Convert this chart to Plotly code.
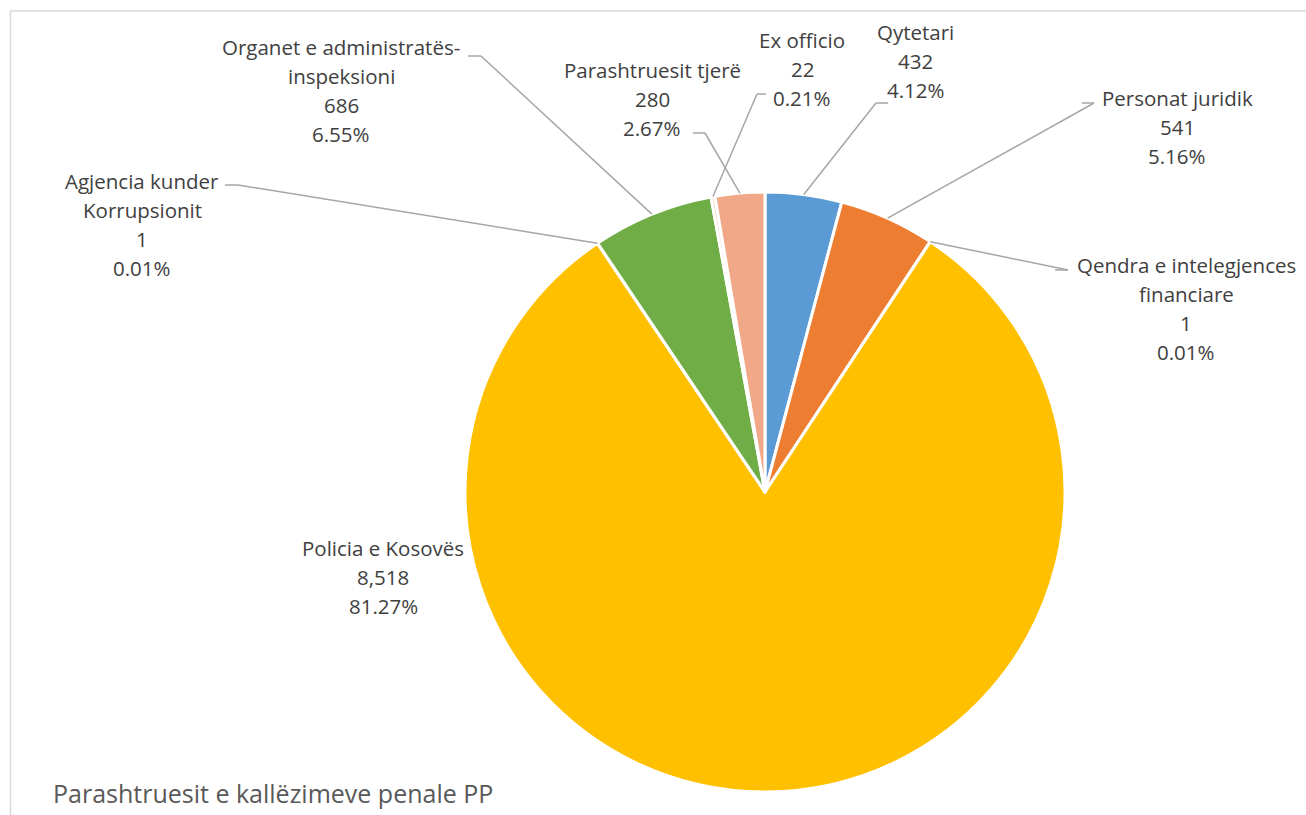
import math
import plotly.graph_objects as go

# ---- data ----
categories = ["Qytetari", "Personat juridik", "Qendra e intelegjences financiare",
              "Policia e Kosovës", "Agjencia kunder Korrupsionit",
              "Organet e administratës-inspeksioni", "Ex officio", "Parashtruesit tjerë"]
values = [432, 541, 1, 8518, 1, 686, 22, 280]
colors = ["#5B9BD5", "#ED7D31", "#A5A5A5", "#FFC000", "#4472C4", "#70AD47", "#F8CBAD", "#F0A888"]
# label text lines (name lines) for each slice
name_lines = [["Qytetari"], ["Personat juridik"], ["Qendra e intelegjences", "financiare"],
              ["Policia e Kosovës"], ["Agjencia kunder", "Korrupsionit"],
              ["Organet e administratës-", "inspeksioni"], ["Ex officio"], ["Parashtruesit tjerë"]]
title_text = "Parashtruesit e kallëzimeve penale PP"

# ---- layout (pixel positions) ----
W, H = 1306, 815
CX, CY, R = 765, 492, 300
# label block: center x, top-line center y
label_pos = [(916, 32), (1177, 98), (1186, 265), (383, 548), (142, 181), (341, 47), (802, 40), (652, 70)]
# leader line label-end: (x_start, x_elbow, y) or None
leader = [(888, 876, 103), (1082, 1094, 103), (1055, 1068, 270), None, (225, 238, 185),
          (468, 481, 56), (766, 757, 94), (693, 705, 133)]
LINE_H = 29
FONT = "Open Sans"

def px(x):
    return x / W

def py(y):
    return 1 - y / H

total = sum(values)
fig = go.Figure()
fig.add_trace(go.Pie(
    labels=categories, values=values, sort=False, direction="clockwise", rotation=0,
    marker=dict(colors=colors, line=dict(color="white", width=3)),
    textinfo="none", hoverinfo="label+value+percent", showlegend=False,
    domain=dict(x=[px(CX - R), px(CX + R)], y=[py(CY + R), py(CY - R)]),
))

annotations = []
shapes = []
cum = 0
for i, v in enumerate(values):
    mid = (cum + v / 2) / total * 2 * math.pi
    cum += v
    ax = CX + R * math.sin(mid)
    ay = CY - R * math.cos(mid)
    lines = name_lines[i] + [f"{v:,}", f"{v / total * 100:.2f}%"]
    lx, ly = label_pos[i]
    for k, t in enumerate(lines):
        annotations.append(dict(x=px(lx), y=py(ly + k * LINE_H), xref="paper", yref="paper",
                                text=t, showarrow=False, xanchor="center", yanchor="middle",
                                font=dict(family=FONT, size=20.5, color="#404040")))
    if leader[i] is not None:
        x0, x1, yy = leader[i]
        shapes.append(dict(type="line", xref="paper", yref="paper", x0=px(x0), y0=py(yy),
                           x1=px(x1), y1=py(yy), line=dict(color="#A6A6A6", width=1.5)))
        shapes.append(dict(type="line", xref="paper", yref="paper", x0=px(x1), y0=py(yy),
                           x1=px(ax), y1=py(ay), line=dict(color="#A6A6A6", width=1.5)))

# chart border (top and left visible)
shapes.append(dict(type="rect", xref="paper", yref="paper", x0=px(10.5), y0=py(11), x1=px(1320),
                   y1=py(830), line=dict(color="#D9D9D9", width=1.5), fillcolor="rgba(0,0,0,0)",
                   layer="below"))

annotations.append(dict(x=px(51), y=py(793), xref="paper", yref="paper", text=title_text,
                        showarrow=False, xanchor="left", yanchor="middle",
                        font=dict(family=FONT, size=25, color="#595959")))

fig.update_layout(width=W, height=H, margin=dict(l=0, r=0, t=0, b=0),
                  paper_bgcolor="white", plot_bgcolor="white",
                  annotations=annotations, shapes=shapes)
fig.write_html("out.html", config={"displayModeBar": False},
               post_script="document.body.style.margin='0';document.body.style.overflow='hidden';")
